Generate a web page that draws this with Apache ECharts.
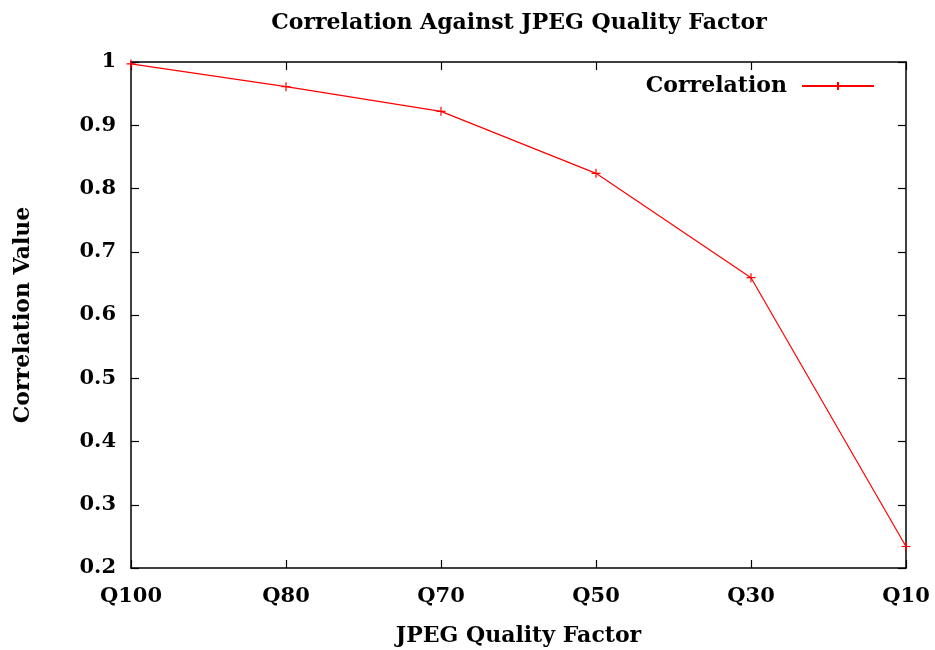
<html>
<head>
<meta charset="utf-8">
<title>Correlation Against JPEG Quality Factor</title>
<script src="https://cdn.jsdelivr.net/npm/echarts@6/dist/echarts.min.js"></script>
</head>
<body style="margin:0">
<div id="chart" style="width:935px;height:650px"></div>
<script>
// data
var qualityFactors = ['Q100', 'Q80', 'Q70', 'Q50', 'Q30', 'Q10'];
var correlation = [0.997, 0.961, 0.922, 0.824, 0.659, 0.234];
var yTicks = [0.2, 0.3, 0.4, 0.5, 0.6, 0.7, 0.8, 0.9, 1];

var font = 'DejaVu Serif';
var plus = 'path://M0,5L10,5M5,0L5,10';

var chart = echarts.init(document.getElementById('chart'));
var axisLine = { show: true, lineStyle: { color: '#000', width: 1.5 } };
var tick = { show: true, inside: true, length: 8, lineStyle: { color: '#000', width: 1.2 } };

var option = {
    animation: false,
    backgroundColor: '#fff',
    title: {
        text: 'Correlation Against JPEG Quality Factor',
        left: 514, top: 7, textAlign: 'center',
        textStyle: { fontFamily: font, fontWeight: 'bold', fontSize: 22, color: '#000' }
    },
    legend: {
        data: [{ name: 'Correlation' }],
        right: 55, top: 70,
        align: 'right',
        itemWidth: 72, itemHeight: 10,
        itemGap: 10,
        textStyle: { fontFamily: font, fontWeight: 'bold', fontSize: 22, color: '#000', padding: [0, 10, 0, 0] }
    },
    grid: { left: 131, right: 29, top: 62, bottom: 82, outerBoundsMode: 'none', containLabel: false },
    xAxis: [{
        type: 'category', data: qualityFactors, boundaryGap: false,
        name: 'JPEG Quality Factor', nameLocation: 'middle', nameGap: 57,
        nameTextStyle: { fontFamily: font, fontWeight: 'bold', fontSize: 22, color: '#000' },
        axisLine: axisLine, axisTick: tick,
        axisLabel: { fontFamily: font, fontWeight: 'bold', fontSize: 21, color: '#000', margin: 18 },
        splitLine: { show: false }
    }, {
        type: 'category', data: qualityFactors, boundaryGap: false, position: 'top',
        axisLine: axisLine, axisTick: tick, axisLabel: { show: false }
    }],
    yAxis: [{
        type: 'value', min: 0.2, max: 1, interval: 0.1,
        name: 'Correlation Value', nameLocation: 'middle', nameGap: 97, nameRotate: 90,
        nameTextStyle: { fontFamily: font, fontWeight: 'bold', fontSize: 22, color: '#000' },
        axisLine: axisLine, axisTick: tick,
        axisLabel: {
            fontFamily: font, fontWeight: 'bold', fontSize: 21, color: '#000', margin: 15,
            formatter: function (v) {
                var t = yTicks.filter(function (k) { return Math.abs(k - v) < 1e-6; });
                return t.length ? String(t[0]) : '';
            }
        },
        splitLine: { show: false }
    }, {
        type: 'value', min: 0.2, max: 1, interval: 0.1, position: 'right',
        axisLine: axisLine, axisTick: tick, axisLabel: { show: false }, splitLine: { show: false }
    }],
    series: [{
        name: 'Correlation',
        type: 'line',
        data: correlation,
        symbol: plus,
        symbolSize: 9,
        showSymbol: true,
        color: '#ff0000',
        lineStyle: { color: '#ff0000', width: 1.2 },
        itemStyle: { color: 'none', borderColor: '#ff0000', borderWidth: 1.2 }
    }]
};
chart.setOption(option);
</script>
</body>
</html>
